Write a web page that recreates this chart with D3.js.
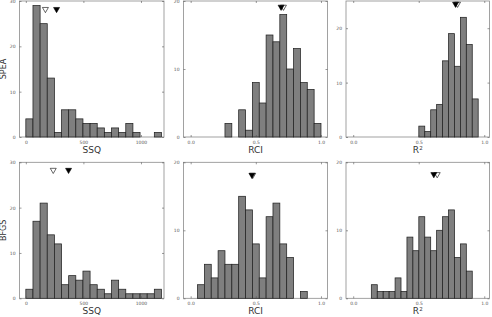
<!DOCTYPE html>
<html><head><meta charset="utf-8">
<script src="https://cdn.jsdelivr.net/npm/d3@7"></script>
<style>body{margin:0;background:#fff}svg{display:block}</style>
</head><body><svg id="c" width="492" height="317"></svg>
<script>
// ---- data ----
const methods = ["SPEA", "BFGS"];
const metrics = ["SSQ", "RCI", "R2"];
// histogram bins (shared by both methods): start and width of first bin, 19 bins
const binStart = [0, 0, 0.093];
const binWidth = [62, 1 / 19, 0.0453];
// counts per bin
const spea_SSQ = [4, 29, 25, 13, 1, 6, 6, 4, 3, 3, 2, 1, 2, 1, 3, 1, 0, 0, 1];
const spea_RCI = [0, 0, 0, 0, 0, 2, 0, 4, 1, 8, 5, 15, 14, 18, 10, 13, 8, 7, 2];
const spea_R2  = [0, 0, 0, 0, 0, 0, 0, 0, 0, 2, 1, 5, 6, 14, 19, 13, 22, 17, 7];
const bfgs_SSQ = [2, 17, 21, 14, 12, 3, 5, 4, 6, 3, 2, 1, 4, 2, 1, 1, 1, 1, 2];
const bfgs_RCI = [0, 2, 5, 3, 7, 5, 5, 15, 13, 8, 3, 12, 14, 8, 6, 0, 1, 0, 0];
const bfgs_R2  = [0, 2, 1, 1, 1, 3, 1, 9, 7, 12, 9, 7, 10, 12, 13, 6, 8, 4, 0];
// marker positions (filled ▼ and open ▽) and their height in count units
const filledMark = [[267, 0.694, 0.781], [371, 0.470, 0.615]];
const openMark   = [[170, 0.712, 0.796], [238, 0.476, 0.641]];
const markY      = [[28, 19, 24.3], [28.1, 18, 18.1]];
// axes
const xDomains = [[-55, 1200], [-0.055, 1.05], [-0.055, 1.04]];
const xTicks = [[0, 500, 1000], [0, 0.5, 1], [0, 0.5, 1]];
const xTickFmt = [d3.format("d"), d3.format(".1f"), d3.format(".1f")];
const yMax = [[30, 20, 25], [30, 20, 20]];
const yTicks = [[[0, 10, 20, 30], [0, 10, 20], [0, 10, 20]], [[0, 10, 20, 30], [0, 10, 20], [0, 10, 20]]];
const counts = [[spea_SSQ, spea_RCI, spea_R2], [bfgs_SSQ, bfgs_RCI, bfgs_R2]];

// ---- layout ----
const colX = [[19.5, 164], [183.5, 327.5], [346, 489.5]];
const rowY = [[1, 137], [162.3, 298.3]];

const svg = d3.select("#c");
const font = "DejaVu Sans, sans-serif";

for (let r = 0; r < 2; r++) {
  for (let c = 0; c < 3; c++) {
    const x = d3.scaleLinear().domain(xDomains[c]).range(colX[c]);
    const y = d3.scaleLinear().domain([0, yMax[r][c]]).range([rowY[r][1], rowY[r][0]]);
    const g = svg.append("g");
    const data = counts[r][c].map((v, i) => ({
      x0: binStart[c] + i * binWidth[c],
      x1: binStart[c] + (i + 1) * binWidth[c],
      v
    }));
    // frame
    g.append("rect")
      .attr("x", colX[c][0]).attr("y", rowY[r][0])
      .attr("width", colX[c][1] - colX[c][0]).attr("height", rowY[r][1] - rowY[r][0])
      .attr("fill", "none").attr("stroke", "#8a8a8a").attr("stroke-width", 0.8);
    // bars
    g.selectAll("rect.bar").data(data).enter().append("rect")
      .attr("class", "bar")
      .attr("x", d => x(d.x0)).attr("width", d => x(d.x1) - x(d.x0))
      .attr("y", d => y(d.v)).attr("height", d => y(0) - y(d.v))
      .attr("fill", "#7f7f7f").attr("stroke", "#222").attr("stroke-width", 0.75);
    // axes (inward ticks, labels on left/bottom)
    const xb = d3.axisBottom(x).tickValues(xTicks[c]).tickFormat(xTickFmt[c]).tickSizeInner(-2).tickSizeOuter(0).tickPadding(4);
    const xt = d3.axisTop(x).tickValues(xTicks[c]).tickFormat("").tickSizeInner(-2).tickSizeOuter(0);
    const yl = d3.axisLeft(y).tickValues(yTicks[r][c]).tickFormat(d3.format("d")).tickSizeInner(-2).tickSizeOuter(0).tickPadding(4);
    const yr = d3.axisRight(y).tickValues(yTicks[r][c]).tickFormat("").tickSizeInner(-2).tickSizeOuter(0);
    const ax = [
      g.append("g").attr("transform", `translate(0,${rowY[r][1]})`).call(xb),
      g.append("g").attr("transform", `translate(0,${rowY[r][0]})`).call(xt),
      g.append("g").attr("transform", `translate(${colX[c][0]},0)`).call(yl),
      g.append("g").attr("transform", `translate(${colX[c][1]},0)`).call(yr)
    ];
    ax.forEach(a => {
      a.select(".domain").remove();
      a.selectAll("line").attr("stroke", "#555").attr("stroke-width", 0.6);
      a.selectAll("text").attr("fill", "#555").style("font", `4.5px ${font}`);
    });
    // markers
    const tri = (cx, cy) => `M${cx - 3},${cy - 2.6}L${cx + 3},${cy - 2.6}L${cx},${cy + 2.6}Z`;
    g.append("path").attr("d", tri(x(filledMark[r][c]), y(markY[r][c])))
      .attr("fill", "#000").attr("stroke", "#000").attr("stroke-width", 0.6);
    g.append("path").attr("d", tri(x(openMark[r][c]), y(markY[r][c])))
      .attr("fill", "none").attr("stroke", "#000").attr("stroke-width", 0.6);
    // x label
    const cx = (colX[c][0] + colX[c][1]) / 2;
    const t = g.append("text").attr("x", cx).attr("y", rowY[r][1] + 16)
      .attr("text-anchor", "middle").attr("fill", "#333").style("font", `9px ${font}`);
    if (metrics[c] === "R2") {
      t.append("tspan").text("R");
      t.append("tspan").attr("dy", -3.5).style("font-size", "5.5px").text("2");
    } else t.text(metrics[c]);
  }
  // row label
  const cy = (rowY[r][0] + rowY[r][1]) / 2;
  svg.append("text").attr("transform", `translate(6,${cy}) rotate(-90)`)
    .attr("text-anchor", "middle").attr("fill", "#333").style("font", `8px ${font}`).text(methods[r]);
}
</script></body></html>
